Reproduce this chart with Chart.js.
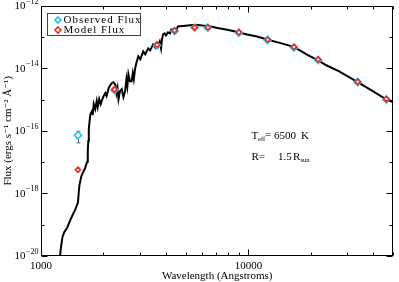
<!DOCTYPE html>
<html><head><meta charset="utf-8">
<script src="https://cdn.jsdelivr.net/npm/chart.js@4/dist/chart.umd.min.js"></script>
<style>html,body{margin:0;padding:0;background:#fff;}</style>
</head><body>
<canvas id="c" width="399" height="282"></canvas>
<script>
// ---- data ----
const specWave = [1235,1250,1268,1292,1339,1395,1469,1507,1523,1531,1562,1591,1627,1668,1681,1691,1700,1719,1732,1763,1776,1796,1826,1856,1877,1908,1940,1968,2004,2042,2071,2118,2158,2189,2237,2287,2312,2338,2364,2403,2451,2497,2544,2581,2609,2638,2682,2735,2771,2802,2839,2880,2944,3010,3111,3181,3286,3359,3472,3549,3589,3668,3737,3791,3833,3876,3948,4005,4093,4184,4245,4406,4470,4569,4828,5100,5388,5692,6014,6353,7092,7913,8834,9858,11003,12281,14164,16520,18040,19060,21670,23750,27390,33010,39790,45890,50000];
const specFlux = [1.0e-20,2.03e-20,3.93e-20,5.66e-20,8.16e-20,1.58e-19,3.28e-19,5.08e-19,1.22e-18,1.77e-18,3.41e-18,4.57e-18,6.12e-18,1.02e-17,2.29e-17,4.75e-17,1.14e-16,2.38e-16,3.43e-16,4.27e-16,3.19e-16,7.13e-16,4.94e-16,8.89e-16,5.73e-16,1.03e-15,7.13e-16,9.55e-16,1.28e-15,1.60e-15,1.28e-15,2.30e-15,2.86e-15,3.32e-15,3.57e-15,2.86e-15,1.60e-15,2.30e-15,1.03e-15,1.85e-15,2.14e-15,1.19e-15,1.85e-15,4.45e-15,2.66e-15,6.41e-15,3.84e-15,3.84e-15,6.90e-15,4.45e-15,9.24e-15,1.43e-14,2.39e-14,1.92e-14,3.45e-14,2.77e-14,4.30e-14,3.71e-14,5.76e-14,4.62e-14,6.20e-14,5.35e-14,7.17e-14,4.30e-14,8.30e-14,1.20e-13,1.29e-13,1.11e-13,1.39e-13,1.29e-13,1.73e-13,1.73e-13,1.49e-13,2.15e-13,2.23e-13,2.31e-13,2.40e-13,2.40e-13,2.31e-13,2.26e-13,1.93e-13,1.69e-13,1.44e-13,1.20e-13,1.03e-13,8.30e-14,6.43e-14,4.80e-14,3.45e-14,2.77e-14,1.79e-14,1.24e-14,7.98e-15,3.84e-15,1.85e-15,1.03e-15,8.2e-16];
const photWave = [1507,2262,3628,4406,5508,6371,9000,12373,16580,21670,33630,46240];
const obsFlux = [7.2e-17,2.0e-15,5.4e-14,1.53e-13,1.98e-13,1.98e-13,1.36e-13,7.9e-14,4.6e-14,1.84e-14,3.6e-15,1.0e-15];
const modelFlux = [5.7e-18,2.1e-15,5.6e-14,1.6e-13,2.0e-13,2.0e-13,1.4e-13,8.2e-14,4.8e-14,1.9e-14,3.7e-15,1.04e-15];
const obsErrLow = [4.1e-17,null,null,null,null,null,null,null,null,null,null,null];
const obsErrHigh = [9.7e-17,null,null,null,null,null,null,null,null,null,null,null];
const xMajorTicks = [1000,10000];
const xMinorTicks = [2000,3000,4000,5000,6000,7000,8000,9000,20000,30000,40000,50000];
const yLabelTicks = [1e-20,1e-18,1e-16,1e-14,1e-12];
const yLabelExp = ['\u221220','\u221218','\u221216','\u221214','\u221212'];
const yMinorTicks = [1e-19,1e-17,1e-15,1e-13];
const legendLabels = ['Observed Flux','Model Flux'];

const CYAN = '#1cc4f2', RED = '#ee2a1c';
const SERIF = '"Liberation Serif", "DejaVu Serif", serif';

function diamond(ctx, x, y, r, color) {
  ctx.save();
  ctx.beginPath();
  ctx.moveTo(x, y - r); ctx.lineTo(x + r, y); ctx.lineTo(x, y + r); ctx.lineTo(x - r, y); ctx.closePath();
  ctx.fillStyle = '#fff'; ctx.fill();
  ctx.lineWidth = 1.6; ctx.strokeStyle = color; ctx.stroke();
  ctx.restore();
}

const decor = {
  id: 'decor',
  beforeDatasetsDraw(chart) {
    const {ctx, scales: {x, y}} = chart;
    ctx.save();
    ctx.strokeStyle = '#666'; ctx.lineWidth = 1;
    photWave.forEach((w, i) => {
      if (obsErrLow[i] == null) return;
      const px = Math.round(x.getPixelForValue(w)) + 0.5;
      const y1 = y.getPixelForValue(obsErrLow[i]), y2 = y.getPixelForValue(obsErrHigh[i]);
      ctx.beginPath();
      ctx.moveTo(px, y1); ctx.lineTo(px, y2);
      ctx.moveTo(px - 2, y1); ctx.lineTo(px + 2, y1);
      ctx.moveTo(px - 2, y2); ctx.lineTo(px + 2, y2);
      ctx.stroke();
    });
    ctx.restore();
  },
  afterDraw(chart) {
    const {ctx, chartArea: a, scales: {x, y}} = chart;
    ctx.save();
    ctx.strokeStyle = '#000'; ctx.lineWidth = 1;
    const L = Math.round(a.left) + 0.5, R = Math.round(a.right) - 0.5, T = Math.round(a.top) + 0.5, B = Math.round(a.bottom) - 0.5;
    ctx.strokeRect(L, T, R - L, B - T);
    ctx.beginPath();
    const xt = (v, len) => {
      const px = Math.round(x.getPixelForValue(v)) + 0.5;
      ctx.moveTo(px, B); ctx.lineTo(px, B - len);
      ctx.moveTo(px, T); ctx.lineTo(px, T + len);
    };
    const yt = (v, len) => {
      const py = Math.round(y.getPixelForValue(v)) + 0.5;
      ctx.moveTo(L, py); ctx.lineTo(L + len, py);
      ctx.moveTo(R, py); ctx.lineTo(R - len, py);
    };
    xMajorTicks.forEach(v => xt(v, 6));
    xMinorTicks.forEach(v => xt(v, 3));
    yLabelTicks.forEach(v => yt(v, 6));
    yMinorTicks.forEach(v => yt(v, 3));
    ctx.stroke();

    // y tick labels with superscript exponents
    ctx.fillStyle = '#000';
    ctx.textBaseline = 'middle';
    yLabelTicks.forEach((v, i) => {
      const py = y.getPixelForValue(v);
      ctx.textAlign = 'right';
      ctx.font = '8px ' + SERIF;
      ctx.fillText(yLabelExp[i], 38.5, py - 4);
      const ew = ctx.measureText(yLabelExp[i]).width;
      ctx.font = '11px ' + SERIF;
      ctx.fillText('10', 38.5 - ew - 0.5, py + 0.5);
    });
    ctx.textAlign = 'left';

    // legend
    ctx.strokeStyle = '#444';
    ctx.strokeRect(47.5, 13.5, 93, 22);
    diamond(ctx, 58, 20, 3, CYAN);
    diamond(ctx, 58, 30, 3, RED);
    ctx.fillStyle = '#000';
    ctx.font = '11px ' + SERIF;
    ctx.letterSpacing = '1px';
    ctx.fillText(legendLabels[0], 63.5, 20.5);
    ctx.fillText(legendLabels[1], 63.5, 30.5);
    ctx.letterSpacing = '0px';

    // annotation
    ctx.font = '11px ' + SERIF;
    ctx.fillText('T', 251.5, 136);
    ctx.font = '6.5px ' + SERIF;
    ctx.fillText('eff', 258, 139);
    ctx.font = '11px ' + SERIF;
    ctx.fillText('=', 265, 135.5);
    ctx.fillText('6500', 274, 136);
    ctx.fillText('K', 301, 136);
    ctx.fillText('R=', 251.5, 157);
    ctx.fillText('1.5', 278, 157);
    ctx.fillText('R', 293, 157);
    ctx.font = '6.5px ' + SERIF;
    ctx.fillText('sun', 300.5, 160);
    ctx.restore();
  }
};

new Chart(document.getElementById('c'), {
  type: 'scatter',
  data: {
    datasets: [
      { label: legendLabels[1], data: photWave.map((w, i) => ({x: w, y: modelFlux[i]})),
        pointStyle: 'rectRot', pointRadius: 2.6, borderColor: RED, backgroundColor: '#fff', borderWidth: 1.6, order: 0 },
      { label: legendLabels[0], data: photWave.map((w, i) => ({x: w, y: obsFlux[i]})),
        pointStyle: 'rectRot', pointRadius: 3.6, borderColor: CYAN, backgroundColor: '#fff', borderWidth: 1.6, order: 1 },
      { label: 'Model spectrum', data: specWave.map((w, i) => ({x: w, y: specFlux[i]})),
        showLine: true, pointRadius: 0, borderColor: '#000', borderWidth: 2, tension: 0, order: 2 }
    ]
  },
  options: {
    responsive: false, animation: false,
    layout: { padding: { top: 4, right: 1, left: 0, bottom: 0 } },
    plugins: { legend: { display: false }, tooltip: { enabled: false } },
    scales: {
      x: {
        type: 'logarithmic', min: 1000, max: 50000,
        afterBuildTicks: s => { s.ticks = xMajorTicks.map(v => ({value: v})); },
        afterFit: s => { s.height = 26; },
        grid: { display: false, drawTicks: false }, border: { display: false },
        ticks: { callback: v => String(v), autoSkip: false, maxRotation: 0, padding: 4, color: '#000',
                 font: { family: SERIF, size: 11 } },
        title: { display: true, text: 'Wavelength (Angstroms)', color: '#000',
                 font: { family: SERIF, size: 11, lineHeight: 1 }, padding: 0 }
      },
      y: {
        type: 'logarithmic', min: 1e-20, max: 1e-12,
        afterBuildTicks: s => { s.ticks = yLabelTicks.map(v => ({value: v})); },
        afterFit: s => { s.width = 41; },
        grid: { display: false, drawTicks: false }, border: { display: false },
        ticks: { display: false },
        title: { display: true, text: 'Flux (ergs s\u207B\u00B9 cm\u207B\u00B2 \u00C5\u207B\u00B9)', color: '#000',
                 font: { family: SERIF, size: 11, lineHeight: 1.2 }, padding: { top: 1.5, bottom: 0 } }
      }
    }
  },
  plugins: [decor]
});
</script>
</body></html>
